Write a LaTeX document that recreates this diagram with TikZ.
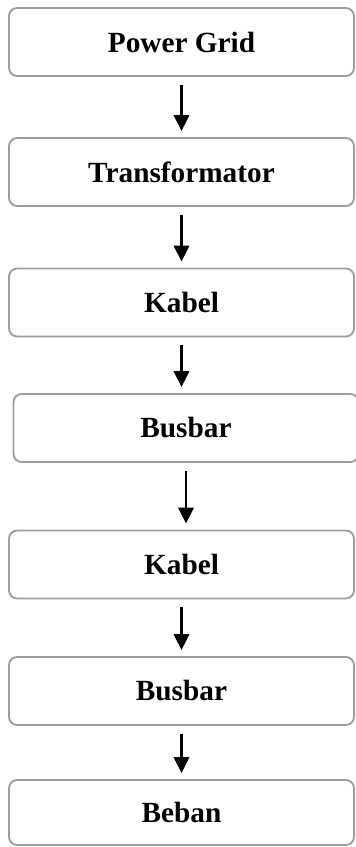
\documentclass[tikz,border=0pt]{standalone}
\usepackage{fontspec}
\setmainfont{Liberation Serif}
\usetikzlibrary{positioning,calc,arrows.meta}

\begin{document}
\begin{tikzpicture}[
    box/.style={draw=black!38, line width=1.6pt, rounded corners=7pt, minimum height=2.04cm, minimum width=10.35cm, align=center, font=\fontsize{25}{29}\selectfont\bfseries},
    arr/.style={-{Triangle[width=0.46cm, length=0.48cm]}, line width=2pt, shorten <=0.24cm, shorten >=0.18cm}
]
    \useasboundingbox (0,0) rectangle (10.65,-25.41);

    % --- Blocks ---
    \node[box] (grid) at (5.445,-1.26) {Power Grid};
    \node[box] (trafo) at (5.445,-5.16) {Transformator};
    \node[box] (kabel1) at (5.445,-9.075) {Kabel};
    \node[box] (bus1) at (5.58,-12.84) {Busbar};
    \node[box] (kabel2) at (5.445,-16.935) {Kabel};
    \node[box] (bus2) at (5.445,-20.73) {Busbar};
    \node[box, minimum height=1.95cm] (beban) at (5.445,-24.375) {Beban};

    % --- Arrows ---
    \draw[arr] (grid) -- (trafo);
    \draw[arr] (trafo) -- (kabel1);
    \draw[arr] (kabel1.south) -- (kabel1.south |- bus1.north);
    \draw[arr] (bus1.south) -- (bus1.south |- kabel2.north);
    \draw[arr] (kabel2) -- (bus2);
    \draw[arr] (bus2) -- (beban);
\end{tikzpicture}
\end{document}
